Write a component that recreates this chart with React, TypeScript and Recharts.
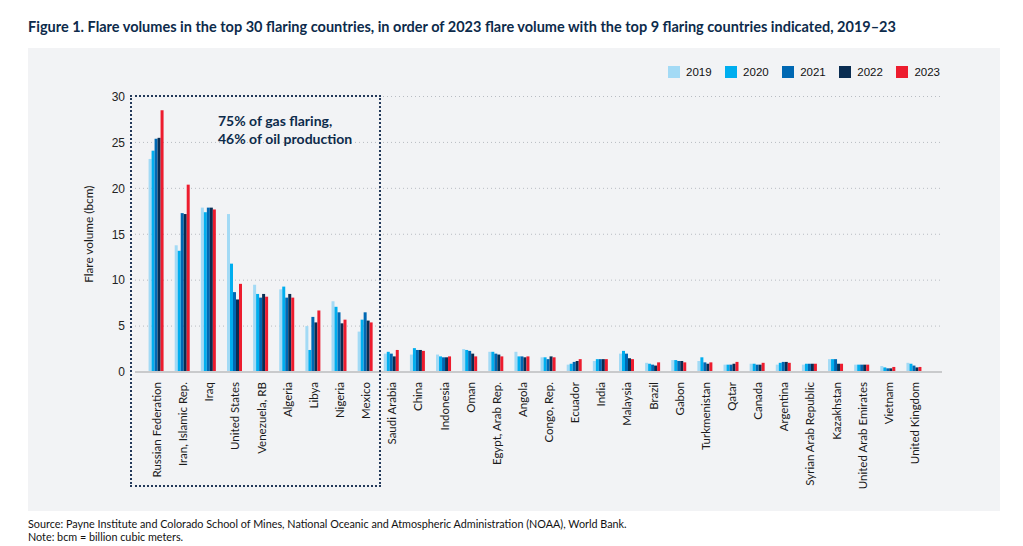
import React from 'react';
import { BarChart, Bar, XAxis, YAxis, CartesianGrid } from 'recharts';

const COUNTRIES = [
  'Russian Federation', 'Iran, Islamic Rep.', 'Iraq', 'United States', 'Venezuela, RB',
  'Algeria', 'Libya', 'Nigeria', 'Mexico', 'Saudi Arabia', 'China', 'Indonesia', 'Oman',
  'Egypt, Arab Rep.', 'Angola', 'Congo, Rep.', 'Ecuador', 'India', 'Malaysia', 'Brazil',
  'Gabon', 'Turkmenistan', 'Qatar', 'Canada', 'Argentina', 'Syrian Arab Republic',
  'Kazakhstan', 'United Arab Emirates', 'Vietnam', 'United Kingdom',
];

const Y2019 = [23.2, 13.8, 17.9, 17.2, 9.5, 9.0, 5.0, 7.7, 4.4, 2.0, 1.9, 1.9, 2.5, 2.2, 2.2, 1.6, 0.8, 1.2, 2.0, 1.0, 1.3, 1.2, 0.8, 0.9, 0.8, 0.8, 1.4, 0.8, 0.65, 1.0];
const Y2020 = [24.1, 13.2, 17.4, 11.8, 8.5, 9.3, 2.4, 7.1, 5.7, 2.2, 2.6, 1.7, 2.4, 2.2, 1.7, 1.6, 0.9, 1.4, 2.3, 0.9, 1.3, 1.6, 0.8, 0.9, 1.0, 0.9, 1.4, 0.8, 0.5, 0.9];
const Y2021 = [25.4, 17.3, 17.9, 8.7, 8.1, 8.1, 6.0, 6.5, 6.5, 2.0, 2.4, 1.6, 2.3, 2.0, 1.7, 1.4, 1.1, 1.4, 2.0, 0.8, 1.2, 1.05, 0.8, 0.8, 1.1, 0.9, 1.4, 0.8, 0.4, 0.7];
const Y2022 = [25.5, 17.2, 17.9, 7.9, 8.5, 8.5, 5.4, 5.3, 5.6, 1.7, 2.4, 1.6, 2.0, 1.9, 1.6, 1.7, 1.2, 1.4, 1.5, 0.7, 1.2, 0.9, 0.9, 0.8, 1.1, 0.9, 0.9, 0.8, 0.4, 0.5];
const Y2023 = [28.5, 20.4, 17.7, 9.6, 8.2, 8.1, 6.7, 5.7, 5.4, 2.4, 2.3, 1.7, 1.7, 1.7, 1.7, 1.6, 1.4, 1.4, 1.4, 1.05, 1.05, 1.05, 1.1, 1.0, 1.0, 0.9, 0.9, 0.8, 0.55, 0.55];

const YEARS = ['2019', '2020', '2021', '2022', '2023'];
const COLORS = ['#a3daf5', '#00aeef', '#0068b3', '#0a2d52', '#ed1c2e'];
const Y_TICKS = [0, 5, 10, 15, 20, 25, 30];

const rows = COUNTRIES.map((name, i) => ({
  name,
  '2019': Y2019[i],
  '2020': Y2020[i],
  '2021': Y2021[i],
  '2022': Y2022[i],
  '2023': Y2023[i],
}));

const NAVY = '#0d2b4b';
const LABEL_FONT = 'Lato, "Noto Sans", sans-serif';

// eslint-disable-next-line @typescript-eslint/no-explicit-any
function CountryTick(props: any) {
  const { x, y, payload } = props;
  return (
    <text
      x={x}
      y={y + 10}
      transform={`rotate(-90, ${x}, ${y + 10})`}
      textAnchor="end"
      dy="0.35em"
      fontSize={11.5}
      fontFamily={LABEL_FONT}
      fill="#1a1a1a"
    >
      {payload.value}
    </text>
  );
}

export default function App() {
  return (
    <div
      style={{
        position: 'absolute',
        left: 0,
        top: 0,
        width: 1023,
        height: 546,
        background: '#fff',
        fontFamily: LABEL_FONT,
        overflow: 'hidden',
      }}
    >
      {/* Title */}
      <div
        style={{
          position: 'absolute',
          left: 28,
          top: 18,
          fontSize: 14.5,
          fontWeight: 700,
          color: NAVY,
          whiteSpace: 'nowrap',
        }}
      >
        Figure 1. Flare volumes in the top 30 flaring countries, in order of 2023 flare volume with the top 9 flaring countries indicated, 2019–23
      </div>

      {/* Panel */}
      <div style={{ position: 'absolute', left: 28, top: 48, width: 972, height: 463, background: '#f2f3f5' }} />

      {/* Legend */}
      <div
        style={{
          position: 'absolute',
          left: 668,
          top: 66,
          display: 'flex',
          alignItems: 'center',
          fontFamily: '"Liberation Sans", Arial, sans-serif',
          fontSize: 11.5,
          color: '#111',
        }}
      >
        {YEARS.map((yr, i) => (
          <div key={yr} style={{ display: 'flex', alignItems: 'center', marginRight: 13.5 }}>
            <span style={{ width: 12, height: 12, background: COLORS[i], marginRight: 6 }} />
            <span>{yr}</span>
          </div>
        ))}
      </div>

      <BarChart
        width={1023}
        height={546}
        data={rows}
        margin={{ top: 96.5, right: 81, left: 75, bottom: 54 }}
        barCategoryGap="17.5%"
        barGap={0}
        style={{ position: 'absolute', left: 0, top: 0 }}
      >
        <CartesianGrid vertical={false} stroke="#b8bcc2" strokeDasharray="1 3" />
        <XAxis
          dataKey="name"
          height={120}
          interval={0}
          padding={{ left: 9, right: 14 }}
          tickLine={false}
          tickSize={0}
          tickMargin={0}
          axisLine={{ stroke: '#c9cacc', strokeWidth: 2 }}
          tick={<CountryTick />}
        />
        <YAxis
          width={60}
          domain={[0, 30]}
          ticks={Y_TICKS}
          axisLine={false}
          tickLine={false}
          tickSize={0}
          tickMargin={10}
          tick={{ fontSize: 12, fill: '#222', fontFamily: '"Liberation Sans", Arial, sans-serif' }}
          label={{
            value: 'Flare volume (bcm)',
            angle: -90,
            position: 'insideLeft',
            offset: 14,
            style: { textAnchor: 'middle', fontSize: 11.8, fill: '#1a1a1a', fontFamily: LABEL_FONT },
          }}
        />
        {YEARS.map((yr, i) => (
          <Bar key={yr} dataKey={yr} fill={COLORS[i]} isAnimationActive={false} />
        ))}
      </BarChart>

      {/* Top-9 box */}
      <div
        style={{
          position: 'absolute',
          left: 130,
          top: 95,
          width: 251,
          height: 392,
          border: '2px dotted #23395a',
          boxSizing: 'border-box',
          pointerEvents: 'none',
        }}
      />
      <div
        style={{
          position: 'absolute',
          left: 218,
          top: 112,
          fontSize: 14,
          lineHeight: '18px',
          fontWeight: 700,
          color: NAVY,
        }}
      >
        75% of gas flaring,
        <br />
        46% of oil production
      </div>

      {/* Source */}
      <div
        style={{
          position: 'absolute',
          left: 28,
          top: 517,
          fontSize: 10.8,
          lineHeight: '13px',
          color: '#111',
        }}
      >
        Source: Payne Institute and Colorado School of Mines, National Oceanic and Atmospheric Administration (NOAA), World Bank.
        <br />
        Note: bcm = billion cubic meters.
      </div>
    </div>
  );
}
